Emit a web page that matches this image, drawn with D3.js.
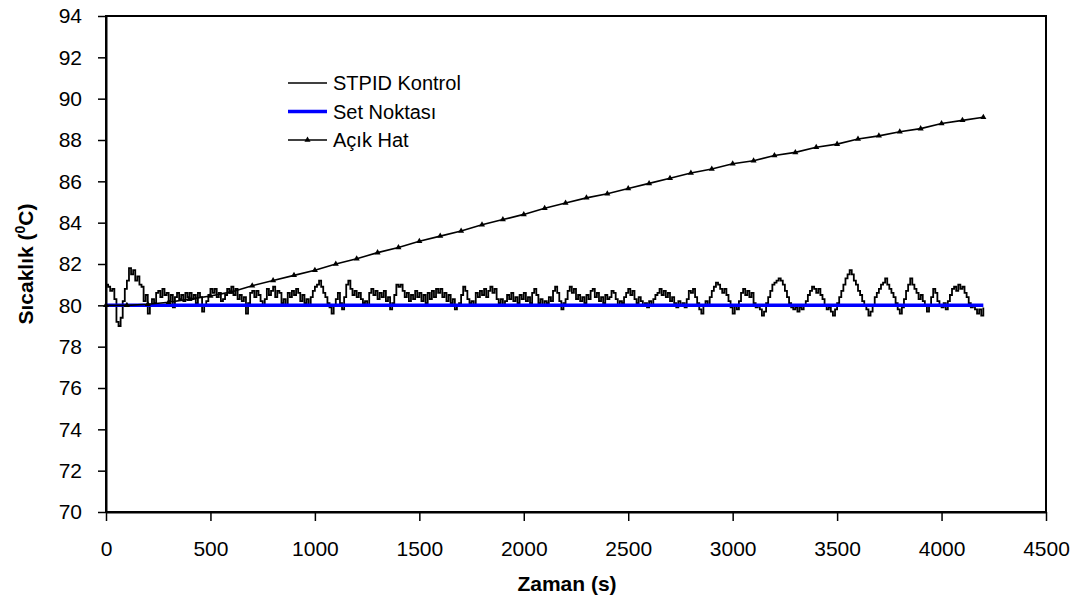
<!DOCTYPE html>
<html>
<head>
<meta charset="utf-8">
<script src="https://cdn.jsdelivr.net/npm/d3@7"></script>
<style>
  body { margin: 0; background: #fff; }
  svg { font-family: Arial, "Liberation Sans", sans-serif; }
</style>
</head>
<body>
<div id="chart"></div>
<script>
// STPID kontrol: one sample every 10 s, 0..4200 s
const stpidStep = 10;
const stpidValues = [
  81.0, 80.9, 80.7, 80.8, 80.3, 79.2, 79.0, 79.4, 80.2, 80.8, 81.2,
  81.8, 81.5, 81.7, 81.2, 81.4, 81.0, 80.9, 80.2, 80.5, 79.6,
  80.0, 80.3, 80.1, 80.6, 80.7, 80.4, 80.8, 80.5, 80.6, 80.2,
  80.5, 79.9, 80.4, 80.6, 80.3, 80.5, 80.2, 80.6, 80.4, 80.6,
  80.3, 80.5, 80.1, 80.6, 80.4, 79.7, 80.0, 80.2, 80.5, 80.8,
  80.6, 80.8, 80.4, 80.6, 80.2, 80.3, 80.5, 80.8, 80.6, 80.9,
  80.5, 80.8, 80.3, 80.5, 80.2, 80.4, 79.6, 80.1, 80.6, 80.7,
  80.4, 80.7, 80.5, 80.2, 80.0, 80.3, 80.8, 80.5, 80.7, 80.9,
  80.4, 80.7, 80.6, 80.1, 80.3, 80.0, 80.6, 80.4, 80.7, 80.5,
  80.8, 80.6, 80.2, 80.5, 80.1, 80.3, 80.0, 80.4, 80.7, 80.9,
  81.0, 81.2, 80.9, 80.6, 80.4, 80.1, 79.9, 79.6, 80.0, 80.3,
  80.6, 80.1, 79.8, 80.4, 81.0, 81.2, 80.8, 80.5, 80.7, 80.4,
  80.6, 80.3, 80.1, 80.2, 80.0, 80.6, 80.8, 80.5, 80.7, 80.3,
  80.6, 80.4, 80.7, 80.2, 80.4, 79.8, 80.1, 80.5, 81.0, 80.9,
  81.0, 80.7, 80.4, 80.6, 80.2, 80.5, 80.3, 80.7, 80.4, 80.6,
  80.2, 80.5, 80.1, 80.6, 80.3, 80.7, 80.4, 80.8, 80.6, 80.8,
  80.4, 80.6, 80.2, 80.5, 80.1, 80.3, 79.8, 80.0, 80.1, 80.5,
  80.9, 80.7, 80.3, 80.1, 80.2, 80.0, 80.6, 80.4, 80.7, 80.5,
  80.8, 80.4, 80.7, 80.9, 80.6, 80.8, 80.3, 80.1, 80.3, 80.0,
  80.2, 80.5, 80.3, 80.6, 80.2, 80.4, 80.1, 80.5, 80.3, 80.6,
  80.2, 80.4, 80.1, 80.6, 80.8, 80.5, 80.1, 80.3, 80.0, 80.2,
  80.1, 80.4, 80.2, 80.7, 80.9, 80.6, 80.2, 79.8, 80.1, 80.3,
  80.7, 80.9, 80.6, 80.8, 80.3, 80.5, 80.2, 80.4, 80.1, 80.5,
  80.3, 80.7, 80.8, 80.4, 80.6, 80.2, 80.4, 80.1, 80.5, 80.3,
  80.4, 80.7, 80.6, 80.3, 80.0, 80.2, 80.1, 80.4, 80.6, 80.8,
  80.5, 80.7, 80.3, 80.1, 80.4, 80.2, 80.0, 80.1, 79.9, 80.2,
  80.0, 80.3, 80.5, 80.6, 80.8, 80.5, 80.7, 80.4, 80.6, 80.2,
  80.4, 80.1, 79.9, 80.2, 80.0, 80.1, 79.9, 80.3, 80.7, 80.6,
  80.8, 80.4, 80.1, 79.8, 79.6, 80.0, 80.2, 80.0, 80.4, 80.7,
  80.9, 81.1, 81.0, 80.8, 80.6, 80.8, 80.5, 80.2, 79.9, 79.6,
  80.0, 79.8, 80.2, 80.6, 80.8, 80.5, 80.7, 80.4, 80.6, 80.1,
  79.9, 80.0, 79.8, 79.5, 79.7, 80.1, 80.4, 80.7, 81.0, 81.1,
  81.2, 81.3, 81.2, 81.0, 80.7, 80.4, 80.1, 79.9, 79.8, 79.9,
  79.7, 79.9, 79.8, 80.0, 80.2, 80.5, 80.7, 80.9, 80.8, 80.6,
  80.8, 80.5, 80.3, 80.0, 79.8, 79.9, 79.7, 79.5, 79.8, 80.1,
  80.4, 80.7, 81.0, 81.3, 81.5, 81.7, 81.5, 81.2, 81.0, 80.7,
  80.5, 80.2, 80.0, 79.8, 79.5, 79.7, 80.0, 80.4, 80.6, 80.8,
  81.0, 81.1, 81.3, 81.0, 80.8, 80.6, 80.4, 80.1, 79.8, 79.6,
  79.9, 80.3, 80.7, 81.0, 81.3, 81.0, 80.8, 80.6, 80.3, 80.5,
  80.2, 80.0, 79.7, 80.0, 80.4, 80.8, 80.6, 80.2, 80.0, 79.9,
  80.1, 79.8, 80.2, 80.5, 80.8, 80.9, 80.7, 81.0, 80.8, 80.9,
  80.6, 80.4, 80.1, 79.9, 80.0, 79.8, 79.6, 79.8, 79.5, 79.9
];

// set noktasi
const setTimes = [0, 4200];
const setValues = [80, 80];

// acik hat (open loop), one marker every 100 s
const openTimes = d3.range(0, 4201, 100);
const openValues = [
  80.0, 80.0, 80.05, 80.15, 80.3, 80.45, 80.65, 80.95, 81.2, 81.45,
  81.7, 82.0, 82.25, 82.55, 82.8, 83.1, 83.35, 83.6, 83.9, 84.15,
  84.4, 84.7, 84.95, 85.2, 85.4, 85.65, 85.9, 86.15, 86.4, 86.6,
  86.85, 87.0, 87.25, 87.4, 87.65, 87.8, 88.05, 88.2, 88.4, 88.55,
  88.8, 88.95, 89.1
];

const xTicks = d3.range(0, 4501, 500);
const yTicks = d3.range(70, 95, 2);
const seriesNames = ["STPID Kontrol", "Set Noktası", "Açık Hat"];

let margin = {top: 16, right: 29, bottom: 91, left: 106},
  width = 1075 - margin.left - margin.right,
  height = 603 - margin.top - margin.bottom;

let svg = d3.select("#chart")
  .append("svg")
    .attr("width", 1075)
    .attr("height", 603);

let main = svg.append("g")
  .attr("transform", "translate(" + margin.left + "," + margin.top + ")");

let xScale = d3.scaleLinear().domain([0, 4500]).range([0, width]);
let yScale = d3.scaleLinear().domain([70, 94]).range([height, 0]);

// frame
main.append("rect")
  .attr("width", width).attr("height", height)
  .attr("fill", "none").attr("stroke", "black").attr("stroke-width", 2);

let xAxis = main.append("g")
  .attr("transform", "translate(0," + height + ")")
  .call(d3.axisBottom(xScale).tickValues(xTicks).tickFormat(d3.format("d"))
    .tickSize(9).tickPadding(20).tickSizeOuter(0));

let yAxis = main.append("g")
  .call(d3.axisLeft(yScale).tickValues(yTicks).tickSize(8).tickPadding(16).tickSizeOuter(0));

[xAxis, yAxis].forEach(a => {
  a.select(".domain").attr("stroke-width", 2);
  a.selectAll(".tick line").attr("stroke-width", 1.5);
  a.selectAll("text").attr("font-size", 21).attr("fill", "#000")
    .attr("font-family", "Arial, 'Liberation Sans', sans-serif");
});

// lines
let line = d3.line().x(d => xScale(d[0])).y(d => yScale(d[1]));
let stepLine = d3.line().curve(d3.curveStepAfter).x(d => xScale(d[0])).y(d => yScale(d[1]));

let stpid = stpidValues.map((v, i) => [i * stpidStep, v]);
main.append("path")
  .datum(stpid)
  .attr("d", stepLine)
  .attr("fill", "none")
  .attr("stroke", "black")
  .attr("stroke-width", 1.8);

let setData = setTimes.map((t, i) => [t, setValues[i]]);
main.append("path")
  .datum(setData)
  .attr("d", line)
  .attr("fill", "none")
  .attr("stroke", "#0000ff")
  .attr("stroke-width", 3.5);

let openData = openTimes.map((t, i) => [t, openValues[i]]);
main.append("path")
  .datum(openData)
  .attr("d", line)
  .attr("fill", "none")
  .attr("stroke", "black")
  .attr("stroke-width", 1.6);

let tri = d3.symbol().type(d3.symbolTriangle).size(16);
main.append("g").selectAll("path")
  .data(openData)
  .join("path")
  .attr("d", tri)
  .attr("transform", d => "translate(" + xScale(d[0]) + "," + yScale(d[1]) + ")")
  .attr("fill", "black");

// legend
let legend = svg.append("g").attr("transform", "translate(288,83)");
seriesNames.forEach((name, i) => {
  let row = legend.append("g").attr("transform", "translate(0," + (i * 28.5) + ")");
  row.append("line")
    .attr("x1", 0).attr("x2", 39).attr("y1", 0).attr("y2", 0)
    .attr("stroke", i == 1 ? "#0000ff" : "black")
    .attr("stroke-width", i == 1 ? 3.5 : 1.6);
  if (i == 2) {
    row.append("path").attr("d", tri).attr("fill", "black")
      .attr("transform", "translate(19.5,0)");
  }
  row.append("text")
    .attr("x", 45).attr("y", 0).attr("dy", "0.35em")
    .attr("font-size", 20)
    .text(name);
});

// axis titles
svg.append("text")
  .attr("x", 567).attr("y", 591)
  .attr("text-anchor", "middle")
  .attr("font-size", 21).attr("font-weight", "bold")
  .text("Zaman (s)");

let yTitle = svg.append("text")
  .attr("transform", "translate(33," + (margin.top + height / 2) + ") rotate(-90)")
  .attr("text-anchor", "middle")
  .attr("font-size", 21).attr("font-weight", "bold");
yTitle.append("tspan").text("Sıcaklık (");
yTitle.append("tspan").attr("font-size", 14).attr("dy", -8).text("0");
yTitle.append("tspan").attr("dy", 8).text("C)");
</script>
</body>
</html>
